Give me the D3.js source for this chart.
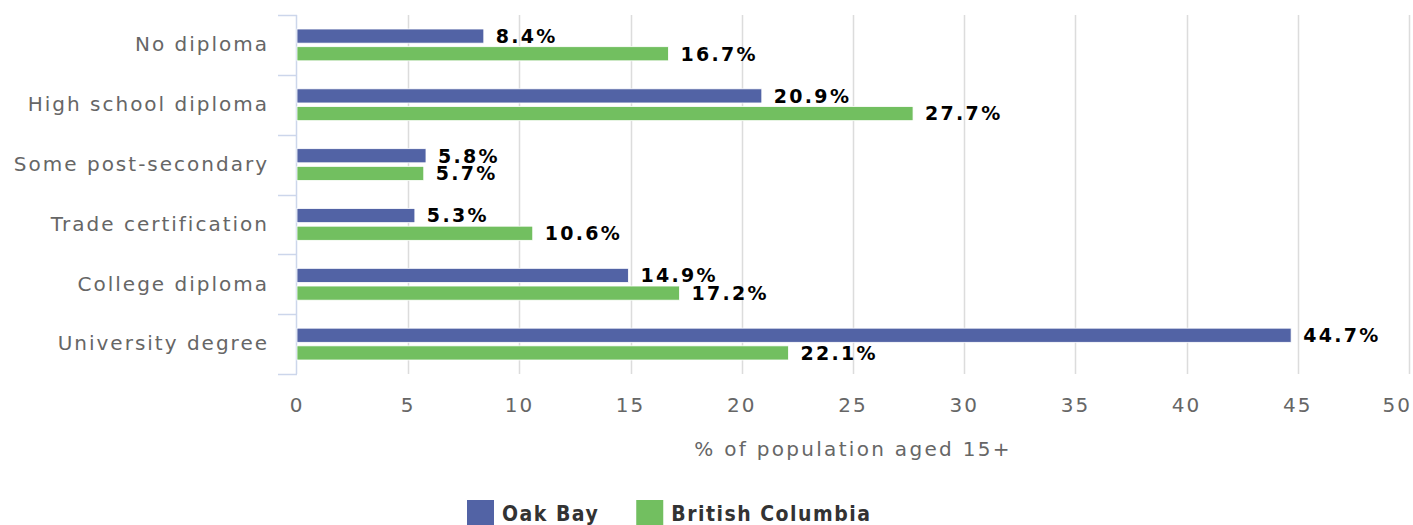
<!DOCTYPE html>
<html>
<head>
<meta charset="utf-8">
<script src="https://cdn.jsdelivr.net/npm/d3@7"></script>
<style>
  html, body { margin: 0; padding: 0; background: #fff; }
  svg { display: block; font-family: "DejaVu Sans", Verdana, sans-serif; }
</style>
</head>
<body>
<svg id="chart" width="1413" height="525"></svg>
<script>
const categories = ["No diploma", "High school diploma", "Some post-secondary", "Trade certification", "College diploma", "University degree"];
const seriesNames = ["Oak Bay", "British Columbia"];
const oakBay = [8.4, 20.9, 5.8, 5.3, 14.9, 44.7];
const britishColumbia = [16.7, 27.7, 5.7, 10.6, 17.2, 22.1];
const xTicks = [0, 5, 10, 15, 20, 25, 30, 35, 40, 45, 50];
const xTitle = "% of population aged 15+";
const colors = ["#5263a5", "#72bf60"];

const series = [oakBay, britishColumbia];
const svg = d3.select("#chart");
const plot = { left: 297, right: 1409, top: 15, bottom: 374 };

const x = d3.scaleLinear().domain([0, 50]).range([plot.left, plot.right]);
const y0 = d3.scaleBand().domain(categories).range([plot.top, plot.bottom]).paddingInner(0).paddingOuter(0);
const groupPad = 14;
const y1 = d3.scaleBand().domain(seriesNames)
  .range([groupPad, y0.bandwidth() - groupPad]).paddingInner(0.2).paddingOuter(0);

// gridlines
svg.append("g").selectAll("line").data(xTicks.slice(1)).join("line")
  .attr("x1", d => Math.round(x(d)) + 0.5).attr("x2", d => Math.round(x(d)) + 0.5)
  .attr("y1", plot.top).attr("y2", plot.bottom)
  .attr("stroke", "#dcdcdc").attr("stroke-width", 1.5);

// y axis line and ticks
svg.append("line").attr("x1", plot.left - 0.5).attr("x2", plot.left - 0.5)
  .attr("y1", plot.top).attr("y2", plot.bottom).attr("stroke", "#ccd6eb").attr("stroke-width", 1.5);
const boundaries = categories.map(c => y0(c)).concat([y0(categories[categories.length - 1]) + y0.bandwidth()]);
svg.append("g").selectAll("line").data(boundaries).join("line")
  .attr("x1", plot.left - 19).attr("x2", plot.left)
  .attr("y1", d => Math.round(d) + 0.5).attr("y2", d => Math.round(d) + 0.5)
  .attr("stroke", "#ccd6eb").attr("stroke-width", 1.5);

// category labels
svg.append("g").selectAll("text").data(categories).join("text")
  .attr("x", plot.left - 28)
  .attr("y", d => y0(d) + y0.bandwidth() / 2)
  .attr("dy", "0.32em")
  .attr("text-anchor", "end")
  .attr("fill", "#666")
  .style("font-size", "20px").style("letter-spacing", "2px")
  .text(d => d);

// bars
const groups = svg.append("g").selectAll("g").data(categories).join("g")
  .attr("transform", d => `translate(0,${y0(d)})`);
groups.selectAll("rect").data((c, i) => seriesNames.map((s, j) => ({ s, v: series[j][i], j }))).join("rect")
  .attr("x", x(0))
  .attr("y", d => y1(d.s))
  .attr("width", d => x(d.v) - x(0))
  .attr("height", y1.bandwidth())
  .attr("fill", d => colors[d.j])
  .attr("stroke", "#fff").attr("stroke-width", 0.8);

// data labels
groups.selectAll("text").data((c, i) => seriesNames.map((s, j) => ({ s, v: series[j][i], j }))).join("text")
  .attr("x", d => x(d.v) + 12)
  .attr("y", d => y1(d.s) + y1.bandwidth() / 2)
  .attr("dy", "0.36em")
  .attr("fill", "#000")
  .style("font-size", "19px").style("font-weight", "bold").style("letter-spacing", "2.3px")
  .text(d => d.v.toFixed(1) + "%");

// x tick labels
const xl = svg.append("g").selectAll("text").data(xTicks).join("text")
  .attr("x", d => x(d))
  .attr("y", 412)
  .attr("text-anchor", "middle")
  .attr("fill", "#666")
  .style("font-size", "20px").style("letter-spacing", "2px")
  .text(d => d);
xl.each(function(d) {
  const w = this.getComputedTextLength();
  if (x(d) + w / 2 > 1411) {
    d3.select(this).attr("text-anchor", "end").attr("x", 1412);
  }
});

// x axis title
svg.append("text")
  .attr("x", (plot.left + plot.right) / 2)
  .attr("y", 456)
  .attr("text-anchor", "middle")
  .attr("fill", "#666")
  .style("font-size", "20px").style("letter-spacing", "2.3px")
  .text(xTitle);

// legend
const legend = svg.append("g");
let lx = 467;
seriesNames.forEach((name, j) => {
  legend.append("rect").attr("x", lx).attr("y", 500).attr("width", 27).attr("height", 27).attr("fill", colors[j]);
  const t = legend.append("text").attr("x", lx + 35).attr("y", 521)
    .attr("fill", "#333")
    .style("font-family", "'DejaVu Sans Condensed', 'DejaVu Sans', sans-serif")
    .style("font-size", "21px").style("font-weight", "bold").style("letter-spacing", "1.5px")
    .text(name);
  lx += 35 + t.node().getComputedTextLength() + 37;
});
</script>
</body>
</html>
